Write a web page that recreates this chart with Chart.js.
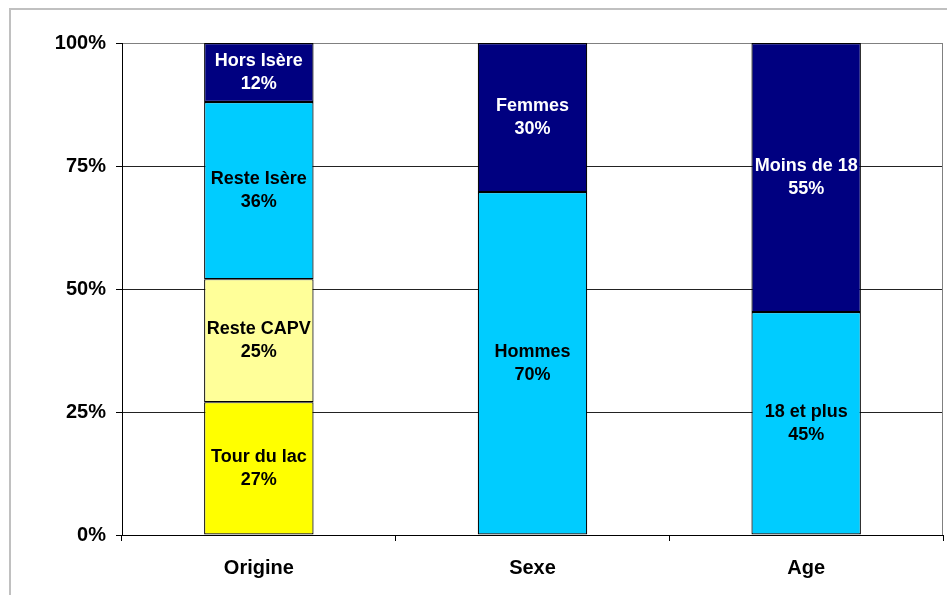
<!DOCTYPE html>
<html>
<head>
<meta charset="utf-8">
<script src="https://cdn.jsdelivr.net/npm/chart.js@4/dist/chart.umd.min.js"></script>
<style>
html,body{margin:0;padding:0;background:#fff;}
#wrap{width:947px;height:595px;position:relative;}
</style>
</head>
<body>
<div id="wrap"><canvas id="c" width="947" height="595"></canvas></div>
<script>
// ---- data ----
const categories = ['Origine', 'Sexe', 'Age'];
const yTicks = [0, 25, 50, 75, 100];

const origineLabels = ['Tour du lac', 'Reste CAPV', 'Reste Isère', 'Hors Isère'];
const origineValues = [27, 25, 36, 12];

const sexeLabels = ['Hommes', 'Femmes'];
const sexeValues = [69.7, 30.3];

const ageLabels = ['18 et plus', 'Moins de 18'];
const ageValues = [45.3, 54.7];

// ---- styles ----
const origineColors = ['#FFFF00', '#FFFF99', '#00CCFF', '#000080'];
const twoColors = ['#00CCFF', '#000080'];

function makeSets(labels, values, colors, catIndex) {
  return labels.map((lab, i) => {
    const d = categories.map((_, k) => k === catIndex ? values[i] : null);
    return {
      label: lab,
      data: d,
      backgroundColor: colors[i],
      borderColor: '#000000',
      borderWidth: 1.2,
      borderSkipped: false,
      stack: 's',
      textColor: colors[i] === '#000080' ? '#FFFFFF' : '#000000'
    };
  });
}

const datasets = [].concat(
  makeSets(origineLabels, origineValues, origineColors, 0),
  makeSets(sexeLabels, sexeValues, twoColors, 1),
  makeSets(ageLabels, ageValues, twoColors, 2)
);

const FONT = '"Liberation Sans", Arial, sans-serif';

const framePlugin = {
  id: 'frame',
  beforeDraw(chart) {
    const ctx = chart.ctx;
    ctx.save();
    ctx.fillStyle = '#fff';
    ctx.fillRect(0, 0, chart.width, chart.height);
    ctx.strokeStyle = '#c0c0c0';
    ctx.lineWidth = 2;
    ctx.strokeRect(10, 9, 1000, 1000);
    ctx.restore();
  },
  afterDraw(chart) {
    const ctx = chart.ctx;
    const a = chart.chartArea;
    ctx.save();
    ctx.strokeStyle = '#808080';
    ctx.lineWidth = 1;
    ctx.beginPath();
    ctx.moveTo(Math.round(a.right) - 0.5, Math.round(a.top) + 0.5);
    ctx.lineTo(Math.round(a.right) - 0.5, Math.round(a.bottom));
    ctx.stroke();
    ctx.restore();
  }
};

const labelPlugin = {
  id: 'segLabels',
  afterDatasetsDraw(chart) {
    const ctx = chart.ctx;
    ctx.save();
    ctx.font = 'bold 18px ' + FONT;
    ctx.textAlign = 'center';
    ctx.textBaseline = 'middle';
    chart.data.datasets.forEach((ds, i) => {
      const meta = chart.getDatasetMeta(i);
      meta.data.forEach((el, j) => {
        const v = ds.data[j];
        if (v === null || v === undefined) return;
        const cx = el.x;
        const cy = (el.y + el.base) / 2;
        ctx.fillStyle = ds.textColor;
        ctx.fillText(ds.label, cx, cy - 11.5);
        ctx.fillText(Math.round(v) + '%', cx, cy + 11.5);
      });
    });
    ctx.restore();
  }
};

new Chart(document.getElementById('c'), {
  type: 'bar',
  data: { labels: categories, datasets: datasets },
  options: {
    responsive: false,
    animation: false,
    devicePixelRatio: 1,
    layout: { padding: { left: 0, top: 43, right: 4, bottom: 0 } },
    plugins: {
      legend: { display: false },
      tooltip: { enabled: false },
      title: { display: false }
    },
    datasets: { bar: { categoryPercentage: 1.0, barPercentage: 0.4 } },
    scales: {
      x: {
        stacked: true,
        offset: true,
        grid: {
          offset: true,
          drawOnChartArea: false,
          drawTicks: true,
          tickLength: 6,
          color: '#000000'
        },
        border: { display: true, color: '#000000', width: 1 },
        ticks: {
          color: '#000000',
          font: { family: FONT, size: 20, weight: 'bold' },
          padding: 15
        },
        afterFit(scale) { scale.height = 60; }
      },
      y: {
        stacked: true,
        min: 0,
        max: 100,
        afterBuildTicks(scale) { scale.ticks = yTicks.map(v => ({ value: v })); },
        grid: {
          color(ctx) {
            const v = ctx.tick ? ctx.tick.value : null;
            if (v === 100) return '#808080';
            return '#222222';
          },
          tickColor: '#000000',
          tickLength: 6,
          drawTicks: true
        },
        border: { display: true, color: '#000000', width: 1 },
        ticks: {
          color: '#000000',
          font: { family: FONT, size: 20, weight: 'bold' },
          padding: 10,
          callback: v => v + '%'
        },
        afterFit(scale) { scale.width = 122; }
      }
    }
  },
  plugins: [framePlugin, labelPlugin]
});
</script>
</body>
</html>
